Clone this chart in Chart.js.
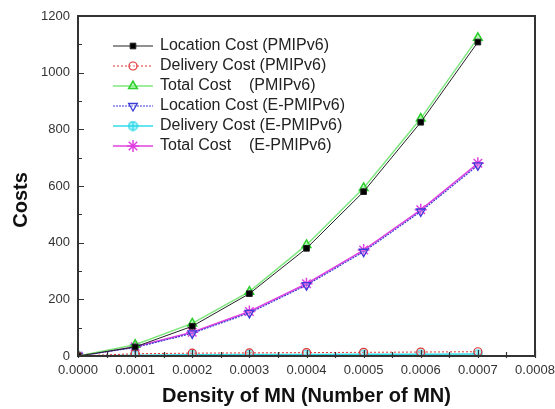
<!DOCTYPE html>
<html>
<head>
<meta charset="utf-8">
<script src="https://cdn.jsdelivr.net/npm/chart.js@4/dist/chart.umd.min.js"></script>
<style>
  html, body { margin: 0; padding: 0; background: #fff; }
  #wrap { width: 555px; height: 409px; }
</style>
</head>
<body>
<div id="wrap"><canvas id="c" width="555" height="409"></canvas></div>
<script>
// x values (density of MN)
const density = [0, 0.0001, 0.0002, 0.0003, 0.0004, 0.0005, 0.0006, 0.0007];

// costs
const locPMIP = [0, 32, 105, 220, 380, 580, 825, 1108];
const delPMIP = [0, 8, 10, 11, 12, 13, 14, 15];
const totPMIP = [0, 40, 115, 227, 392, 593, 838, 1123];
const locEPMIP = [0, 30, 80, 152, 250, 368, 510, 673];
const delEPMIP = [0, 3, 4, 5, 5, 6, 6, 7];
const totEPMIP = [0, 33, 84, 157, 255, 374, 516, 680];

const legendLabels = [
  "Location Cost (PMIPv6)",
  "Delivery Cost (PMIPv6)",
  "Total Cost    (PMIPv6)",
  "Location Cost (E-PMIPv6)",
  "Delivery Cost (E-PMIPv6)",
  "Total Cost    (E-PMIPv6)"
];

const FONT = "'Liberation Sans', Arial, sans-serif";

function pts(ys) {
  return density.map((x, i) => ({ x: x, y: ys[i] }));
}

// circle with a cross in it for the E-PMIPv6 delivery marker
function crossCircle() {
  const cv = document.createElement("canvas");
  cv.width = 11; cv.height = 11;
  const g = cv.getContext("2d");
  g.strokeStyle = "#22d3e6";
  g.fillStyle = "rgba(120,240,250,0.6)";
  g.lineWidth = 1.2;
  g.beginPath(); g.arc(5.5, 5.5, 4.4, 0, Math.PI * 2); g.fill(); g.stroke();
  g.beginPath();
  g.moveTo(5.5, 1); g.lineTo(5.5, 10);
  g.moveTo(1, 5.5); g.lineTo(10, 5.5);
  g.stroke();
  return cv;
}

const datasets = [
  { data: pts(locPMIP), borderColor: "#222", backgroundColor: "#000", borderWidth: 1,
    pointStyle: "rect", pointRadius: 4, pointBorderWidth: 1 },
  { data: pts(delPMIP), borderColor: "#e03030", backgroundColor: "rgba(255,255,255,0.3)", borderWidth: 1,
    borderDash: [2, 2], pointStyle: "circle", pointRadius: 4, pointBorderWidth: 1.2 },
  { data: pts(totPMIP), borderColor: "#7ee87e", backgroundColor: "rgba(140,240,140,0.5)", borderWidth: 1.5,
    pointStyle: "triangle", pointRadius: 5, pointBorderWidth: 1.5, pointBorderColor: "#2bd02b" },
  { data: pts(locEPMIP), borderColor: "#3a3ad8", backgroundColor: "rgba(255,255,255,0.2)", borderWidth: 1.2,
    borderDash: [2, 1], pointStyle: "triangle", pointRotation: 180, pointRadius: 5, pointBorderWidth: 1.3 },
  { data: pts(delEPMIP), borderColor: "#33dde8", backgroundColor: "#7ff0f8", borderWidth: 1.5,
    pointStyle: crossCircle(), pointRadius: 5 },
  { data: pts(totEPMIP), borderColor: "#e040e0", backgroundColor: "#e040e0", borderWidth: 1.5,
    pointStyle: "star", pointRadius: 6, pointBorderWidth: 1.5 }
];

// frame, inward ticks, y title and legend inside the plot
const decor = {
  id: "decor",
  afterDraw(chart) {
    const ctx = chart.ctx;
    const a = chart.chartArea;
    const xs = chart.scales.x, ys = chart.scales.y;
    ctx.save();
    ctx.strokeStyle = "#333";
    ctx.lineWidth = 2;
    ctx.strokeRect(a.left, a.top, a.right - a.left, a.bottom - a.top);

    ctx.lineWidth = 1.2;
    ctx.beginPath();
    for (let v = 0; v <= 1200; v += 100) {
      const y = Math.round(ys.getPixelForValue(v)) + 0.5;
      const len = v % 200 === 0 ? 6 : 4;
      ctx.moveTo(a.left, y); ctx.lineTo(a.left + len, y);
    }
    for (let i = 0; i <= 16; i++) {
      const x = Math.round(xs.getPixelForValue(i * 0.00005)) + 0.5;
      const len = i % 2 === 0 ? 6 : 4;
      ctx.moveTo(x, a.bottom + 2); ctx.lineTo(x, a.bottom - len);
    }
    ctx.stroke();

    // y axis title, sits a bit below the middle like the original
    ctx.save();
    ctx.translate(21, 200);
    ctx.rotate(-Math.PI / 2);
    ctx.font = "bold 20px " + FONT;
    ctx.fillStyle = "#111";
    ctx.textAlign = "center";
    ctx.textBaseline = "middle";
    ctx.fillText("Costs", 0, 0);
    ctx.restore();

    // legend
    const x0 = 113, x1 = 153, tx = 160;
    ctx.font = "16px " + FONT;
    ctx.textBaseline = "middle";
    chart.data.datasets.forEach((ds, i) => {
      const y = 46 + i * 20;
      ctx.strokeStyle = ds.borderColor;
      ctx.lineWidth = ds.borderWidth;
      ctx.setLineDash(ds.borderDash || []);
      ctx.beginPath(); ctx.moveTo(x0, y); ctx.lineTo(x1, y); ctx.stroke();
      ctx.setLineDash([]);
      ctx.fillStyle = ds.backgroundColor;
      ctx.strokeStyle = ds.pointBorderColor || ds.borderColor;
      ctx.lineWidth = ds.pointBorderWidth || 1;
      Chart.helpers.drawPoint(ctx, {
        pointStyle: ds.pointStyle, radius: ds.pointRadius,
        rotation: ds.pointRotation || 0, borderWidth: ds.pointBorderWidth || 1
      }, (x0 + x1) / 2, y);
      ctx.fillStyle = "#222";
      ctx.fillText(legendLabels[i], tx, y);
    });
    ctx.restore();
  }
};

new Chart(document.getElementById("c"), {
  type: "line",
  data: { datasets: datasets },
  options: {
    responsive: false,
    animation: false,
    layout: { padding: { top: 16, right: 0, left: 0, bottom: 0 } },
    plugins: { legend: { display: false }, tooltip: { enabled: false } },
    elements: { line: { tension: 0, fill: false } },
    scales: {
      x: {
        type: "linear",
        min: 0, max: 0.0008,
        border: { display: false },
        grid: { display: false, drawTicks: false },
        ticks: {
          stepSize: 0.0001, padding: 7, color: "#333",
          font: { family: FONT, size: 13 },
          callback: v => v.toFixed(4)
        },
        title: {
          display: true, text: "Density of MN (Number of MN)",
          color: "#111", font: { family: FONT, size: 20, weight: "bold" },
          padding: { top: 0, bottom: 1 }
        },
        afterFit(s) { s.height = 53; s.paddingRight = 20; }
      },
      y: {
        min: 0, max: 1200,
        border: { display: false },
        grid: { display: false, drawTicks: false },
        ticks: {
          stepSize: 200, padding: 8, color: "#333",
          font: { family: FONT, size: 13 },
          callback: v => String(v)
        },
        afterFit(s) { s.width = 78; }
      }
    }
  },
  plugins: [decor]
});
</script>
</body>
</html>
